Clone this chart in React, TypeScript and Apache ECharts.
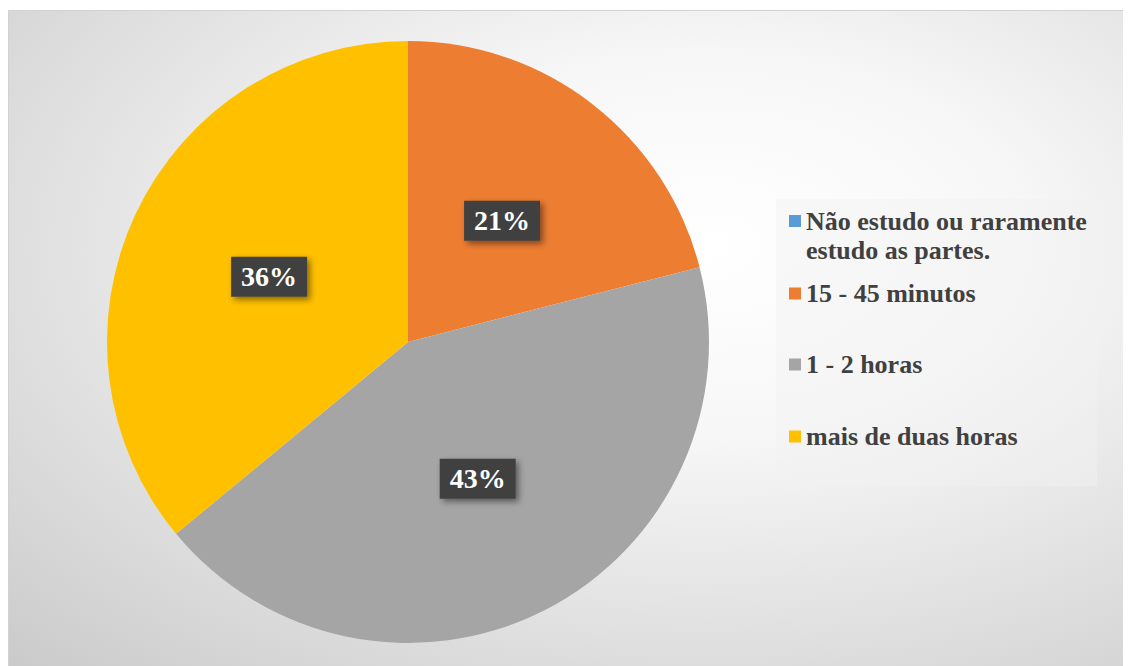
import React, { useEffect, useRef } from "react";
import * as echarts from "echarts";

const categories = [
  "Não estudo ou raramente estudo as partes.",
  "15 - 45 minutos",
  "1 - 2 horas",
  "mais de duas horas",
];
const values = [0, 21, 43, 36];
const colors = ["#5B9BD5", "#ED7D31", "#A5A5A5", "#FFC000"];
const legendLines = ["Não estudo ou raramente", "15 - 45 minutos", "1 - 2 horas", "mais de duas horas"];
const legendSecondLine = "estudo as partes.";
const legendCenters = [210, 282.5, 353.5, 425.5];

const FONT = "'Liberation Serif', 'DejaVu Serif', serif";

export default function App() {
  const ref = useRef<HTMLDivElement>(null);
  useEffect(() => {
    if (!ref.current) return;
    const chart = echarts.init(ref.current, null, { renderer: "svg" });
    const legends = legendLines.map((txt, i) => ({
      data: [categories[i]],
      orient: "vertical",
      left: 781,
      top: legendCenters[i] - 12,
      padding: 0,
      itemWidth: 12,
      itemHeight: 12,
      itemGap: 0,
      icon: "rect",
      selectedMode: false,
      formatter: () => txt,
      textStyle: {
        fontFamily: FONT,
        fontWeight: "bold",
        fontSize: 26,
        lineHeight: 24,
        color: "#404040",
        padding: [0, 0, 0, 0],
      },
    }));
    chart.setOption({
      animation: false,
      backgroundColor: new echarts.graphic.RadialGradient(0.62, 0.36, 0.95, [
        { offset: 0, color: "#ffffff" },
        { offset: 0.3, color: "#f7f7f7" },
        { offset: 1, color: "#c6c6c6" },
      ]),
      legend: legends,
      graphic: [
        {
          type: "rect",
          silent: true,
          z: -1,
          shape: { x: 768, y: 189, width: 321, height: 287 },
          style: { fill: "rgba(242,242,242,0.45)" },
        },
        {
          type: "text",
          silent: true,
          x: 798,
          y: 240.5,
          style: {
            text: legendSecondLine,
            fontFamily: FONT,
            fontWeight: "bold",
            fontSize: 26,
            lineHeight: 24,
            fill: "#404040",
            verticalAlign: "middle",
            align: "left",
          },
        },
        {
          type: "rect",
          silent: true,
          shape: { x: 0.5, y: 0.5, width: 1200, height: 800 },
          style: { fill: "none", stroke: "#d2d2d2", lineWidth: 1 },
        },
      ],
      series: [
        {
          type: "pie",
          center: [400, 332],
          radius: 301,
          startAngle: 90,
          clockwise: true,
          silent: true,
          avoidLabelOverlap: false,
          labelLine: { show: false },
          itemStyle: { borderWidth: 0 },
          label: {
            show: true,
            position: "inside",
            formatter: (p: any) => (p.value > 0 ? Math.round(p.percent) + "%" : ""),
            fontFamily: FONT,
            fontWeight: "bold",
            fontSize: 28,
            lineHeight: 28,
            color: "#ffffff",
            backgroundColor: "#404040",
            padding: [6, 10],
            shadowColor: "rgba(0,0,0,0.45)",
            shadowBlur: 6,
            shadowOffsetX: 3,
            shadowOffsetY: 3,
          },
          data: categories.map((name, i) => ({
            name,
            value: values[i],
            itemStyle: { color: colors[i] },
            label: values[i] > 0 ? undefined : { show: false },
          })),
        },
      ],
    });
    return () => chart.dispose();
  }, []);
  return <div ref={ref} style={{ width: 1123, height: 656, marginTop: 2 }} />;
}
